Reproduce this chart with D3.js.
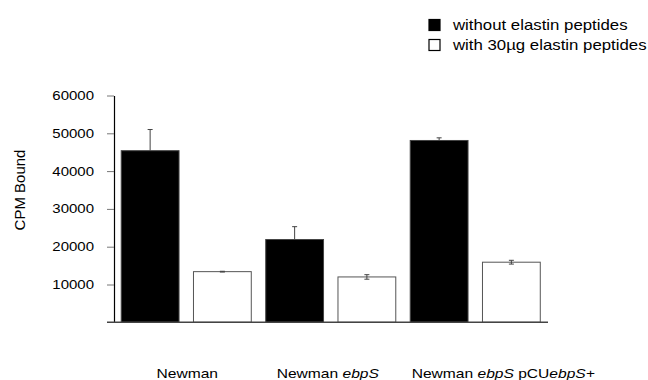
<!DOCTYPE html>
<html lang="en">
<head>
<meta charset="UTF-8">
<title>CPM Bound</title>
<script src="https://d3js.org/d3.v7.min.js"></script>
<style>
  body { margin: 0; background: #fff; }
  text { font-family: "Liberation Sans", Arial, sans-serif; fill: #000; }
</style>
</head>
<body>
<div id="chart"></div>
<script>
// values
var strains = ["Newman", "Newman ebpS", "Newman ebpS pCUebpS+"];
var series = ["without elastin peptides", "with 30\u00b5g elastin peptides"];
var withoutPeptides = [45400, 21900, 48100];
var withoutErr = [5600, 3400, 700];
var withPeptides = [13400, 12000, 15900];
var withErr = [100, 600, 500];
var yTicks = [10000, 20000, 30000, 40000, 50000, 60000];

var W = 648, H = 380;
var svg = d3.select("#chart").append("svg")
    .attr("width", W)
    .attr("height", H);

var y = d3.scaleLinear().domain([0, 60000]).range([322.3, 95.5]);
var x0 = d3.scaleBand().domain(strains).range([114, 547.5]).padding(0);
var x1 = d3.scaleBand().domain(series).range([0, x0.bandwidth()])
    .paddingInner(0.2).paddingOuter(0.1);
var fill = d3.scaleOrdinal().domain(series).range(["#000", "#fff"]);
var edge = d3.scaleOrdinal().domain(series).range(["#444", "#555"]);

var rows = [];
strains.forEach(function (s, i) {
    rows.push({strain: s, series: series[0], value: withoutPeptides[i], err: withoutErr[i]});
    rows.push({strain: s, series: series[1], value: withPeptides[i], err: withErr[i]});
});

// y axis
var yAxis = svg.append("g")
    .attr("transform", "translate(114,0)")
    .call(d3.axisLeft(y).tickValues(yTicks).tickSize(7).tickSizeOuter(0)
        .tickFormat(d3.format("d")));
yAxis.select(".domain").attr("stroke", "#000").attr("stroke-width", 1.2);
yAxis.selectAll(".tick line").attr("stroke", "#777");
yAxis.selectAll(".tick text")
    .attr("x", -20 / 1.2)
    .attr("transform", "scale(1.2,1)")
    .attr("font-size", 12.5)
    .attr("font-family", "Liberation Sans, Arial, sans-serif")
    .attr("fill", "#000");

// bars
var bars = svg.append("g");
bars.selectAll("rect")
    .data(rows)
    .join("rect")
    .attr("x", d => x0(d.strain) + x1(d.series))
    .attr("width", x1.bandwidth())
    .attr("y", d => y(d.value))
    .attr("height", d => y(0) - y(d.value))
    .attr("fill", d => fill(d.series))
    .attr("stroke", d => edge(d.series))
    .attr("stroke-width", 1);

// error bars (lower half hidden inside the black bars)
var eb = svg.append("g").attr("stroke", "#444").attr("stroke-width", 1);
rows.forEach(function (d) {
    var cx = x0(d.strain) + x1(d.series) + x1.bandwidth() / 2;
    var dark = d.series === series[0];
    var lo = dark ? d.value : d.value - d.err;
    eb.append("line")
        .attr("x1", cx).attr("x2", cx)
        .attr("y1", y(lo)).attr("y2", y(d.value + d.err));
    var caps = dark ? [d.value + d.err] : [d.value - d.err, d.value + d.err];
    caps.forEach(function (v) {
        eb.append("line")
            .attr("x1", cx - 2.5).attr("x2", cx + 2.5)
            .attr("y1", y(v)).attr("y2", y(v));
    });
});

// baseline
svg.append("line")
    .attr("x1", 107).attr("x2", 548)
    .attr("y1", y(0)).attr("y2", y(0))
    .attr("stroke", "#444").attr("stroke-width", 1.5);

// category labels, gene names in italics
var labels = svg.append("g");
strains.forEach(function (s, i) {
    var cx = x0(s) + x0.bandwidth() / 2 + (i === 2 ? 28 : (i === 1 ? -3 : 1));
    var t = labels.append("text")
        .attr("text-anchor", "middle")
        .attr("font-size", 13)
        .attr("transform", "translate(" + cx + ",378) scale(1.2,1)");
    s.split(/(ebpS\+?)/).filter(p => p.length).forEach(function (p) {
        t.append("tspan")
            .attr("font-style", /^ebpS/.test(p) ? "italic" : "normal")
            .text(p);
    });
});

// y title
svg.append("text")
    .attr("transform", "translate(25,190) rotate(-90)")
    .attr("text-anchor", "middle")
    .attr("font-size", 15)
    .text("CPM Bound");

// legend
var legend = svg.append("g");
series.forEach(function (s, i) {
    var g = legend.append("g").attr("transform", "translate(429," + (19.5 + i * 20) + ")");
    g.append("rect")
        .attr("width", 11).attr("height", 11)
        .attr("fill", fill(s))
        .attr("stroke", "#000").attr("stroke-width", 1.2);
    g.append("text")
        .attr("transform", "translate(24,10) scale(1.2,1)")
        .attr("font-size", 14)
        .text(s);
});
</script>
</body>
</html>
